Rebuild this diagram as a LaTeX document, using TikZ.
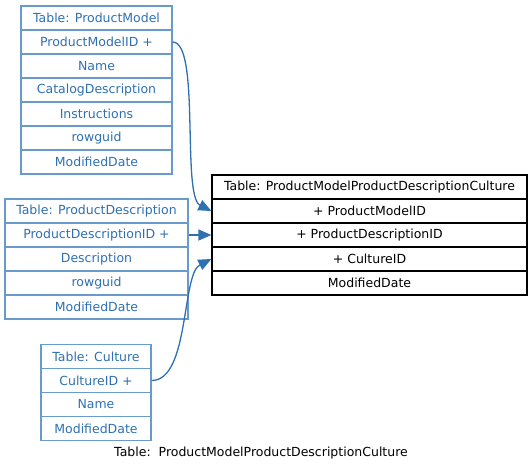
\documentclass[tikz,border=0pt]{standalone}
\usepackage{fontspec}
\setmainfont{DejaVu Sans}
\usetikzlibrary{positioning,arrows.meta}

\definecolor{keyblue}{RGB}{46,112,178}
\definecolor{edgeblue}{RGB}{104,154,204}

\tikzstyle{row} = [rectangle, draw=edgeblue, line width=1.2pt, text=keyblue, text centered, inner sep=0pt, minimum height=24pt, font=\fontsize{12.5}{14}\selectfont]
\tikzstyle{pmrow} = [row, minimum width=151pt]
\tikzstyle{pdrow} = [row, minimum width=183pt]
\tikzstyle{curow} = [row, minimum width=110pt]
\tikzstyle{mainrow} = [row, draw=black, text=black, minimum width=315pt]
\tikzstyle{link} = [draw=keyblue, line width=1.3pt, -{Triangle[length=13pt,width=11pt]}]

\begin{document}
\begin{tikzpicture}[x=1pt, y=-1pt, node distance=24pt]
        \useasboundingbox (0,0) rectangle (532,472);
        % ProductModel
        \node[pmrow] at (96.5,18) (pm0) {Table: ProductModel};
        \node[pmrow, below of=pm0] (pm1) {ProductModelID +};
        \node[pmrow, below of=pm1] (pm2) {Name};
        \node[pmrow, below of=pm2] (pm3) {CatalogDescription};
        \node[pmrow, below of=pm3] (pm4) {Instructions};
        \node[pmrow, below of=pm4] (pm5) {rowguid};
        \node[pmrow, below of=pm5] (pm6) {ModifiedDate};
        % ProductDescription
        \node[pdrow] at (96.5,211) (pd0) {Table: ProductDescription};
        \node[pdrow, below of=pd0] (pd1) {ProductDescriptionID +};
        \node[pdrow, below of=pd1] (pd2) {Description};
        \node[pdrow, below of=pd2] (pd3) {rowguid};
        \node[pdrow, below of=pd3] (pd4) {ModifiedDate};
        % Culture
        \node[curow] at (96,356.5) (cu0) {Table: Culture};
        \node[curow, below of=cu0] (cu1) {CultureID +};
        \node[curow, below of=cu1] (cu2) {Name};
        \node[curow, below of=cu2] (cu3) {ModifiedDate};
        % ProductModelProductDescriptionCulture
        \node[mainrow] at (369.5,187) (mc0) {Table: ProductModelProductDescriptionCulture};
        \node[mainrow, below of=mc0] (mc1) {+ ProductModelID};
        \node[mainrow, below of=mc1] (mc2) {+ ProductDescriptionID};
        \node[mainrow, below of=mc2] (mc3) {+ CultureID};
        \node[mainrow, below of=mc3] (mc4) {ModifiedDate};
        \node[font=\fontsize{12.5}{14}\selectfont] at (261,453) (caption) {Table:\ \ ProductModelProductDescriptionCulture};
        % keys
        \draw[link] (pm1.east) .. controls +(28,0) and +(-30,-15) .. (mc1.west);
        \draw[link] (pd1.east) -- (mc2.west);
        \draw[link] (cu1.east) .. controls +(38,0) and +(-30,15) .. (mc3.west);
\end{tikzpicture}
\end{document}
